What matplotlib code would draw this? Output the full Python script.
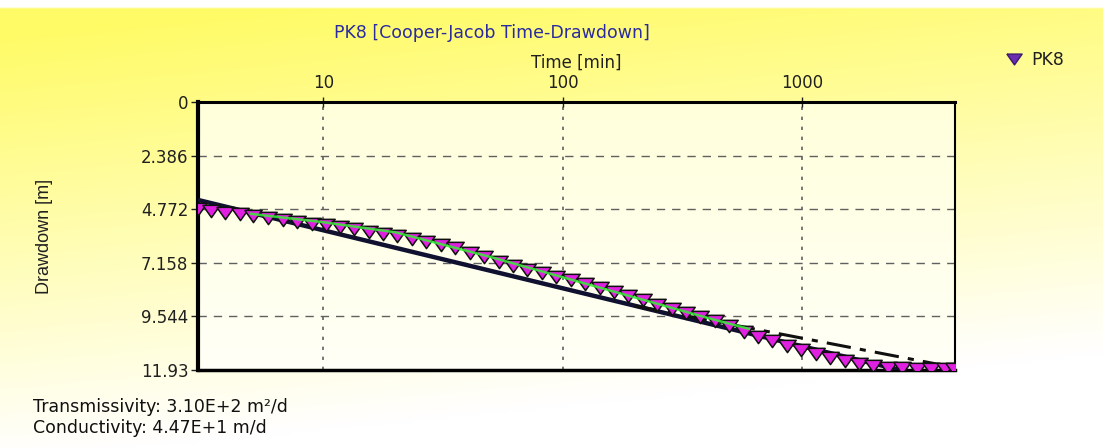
import numpy as np
import matplotlib
matplotlib.use("Agg")
import matplotlib.pyplot as plt
from matplotlib.lines import Line2D

plt.rcParams['font.family'] = ['DejaVu Sans']

# ---------------- data ----------------
time_min = [3.0, 3.4, 3.9, 4.5, 5.1, 5.9, 6.8, 7.8, 9.0, 10.3, 11.8, 13.5, 15.5,
            17.8, 20.4, 23.5, 27, 31, 35.5, 41, 47, 54, 62, 71, 82, 94, 108,
            124, 143, 164, 188, 216, 248, 285, 327, 376, 432, 496, 570, 655,
            752, 864, 992, 1140, 1310, 1505, 1730, 1985, 2280, 2620, 3010,
            3460, 3970, 4300]
drawdown_m = [4.78, 4.85, 4.92, 5.00, 5.08, 5.18, 5.26, 5.34, 5.42, 5.49, 5.58,
              5.67, 5.78, 5.88, 5.98, 6.09, 6.22, 6.37, 6.52, 6.72, 6.92, 7.12,
              7.30, 7.47, 7.63, 7.77, 7.93, 8.09, 8.28, 8.46, 8.64, 8.83, 9.02,
              9.22, 9.40, 9.57, 9.76, 9.97, 10.22, 10.45, 10.65, 10.85, 11.05,
              11.22, 11.38, 11.52, 11.65, 11.75, 11.82, 11.86, 11.88, 11.89,
              11.90, 11.90]

# Cooper-Jacob straight-line fit (solid)
fit_t = [3.0, 2565]
fit_s = [4.36, 11.93]
# late-time fit (dash-dot)
late_t = [200, 4300]
late_s = [9.08, 11.81]
# green trace
green_t = [5, 10, 20, 50, 100, 200, 400, 600]
green_s = [4.98, 5.35, 5.80, 6.90, 7.80, 8.70, 9.60, 10.10]

y_ticks = [0, 2.386, 4.772, 7.158, 9.544, 11.93]
y_ticklabels = ['0', '2.386', '4.772', '7.158', '9.544', '11.93']
x_ticks = [10, 100, 1000]
x_ticklabels = ['10', '100', '1000']

# ---------------- figure ----------------
W, H = 1103, 448
fig = plt.figure(figsize=(W / 100, H / 100), dpi=100)

# background gradient
bg = fig.add_axes([0, 0, 1, 1], zorder=-10)
u = np.linspace(0, 1, 300)[None, :]
v = np.linspace(0, 1, 150)[:, None]
tmix = np.clip(1.05 * v + 0.25 * u - 0.08, 0, 1) ** 1.0
yellow = np.array([1.0, 0.985, 0.40])
white = np.array([1.0, 1.0, 1.0])
img = yellow[None, None, :] * (1 - tmix[..., None]) + white[None, None, :] * tmix[..., None]
img[: int(150 * 8 / H) + 1, :, :] = 1.0
bg.imshow(img, aspect='auto', extent=[0, 1, 0, 1], origin='upper')
bg.set_axis_off()

left, right, top, bottom = 198, 955, 102, 370
ax = fig.add_axes([left / W, 1 - bottom / H, (right - left) / W, (bottom - top) / H])

# plot-area face gradient (cream at top to near white)
face = np.linspace(0, 1, 100)[:, None] * np.ones((1, 10))
cream = np.array([1.0, 1.0, 0.86])
fimg = cream[None, None, :] * (1 - face[..., None]) + np.array([1.0, 1.0, 0.97])[None, None, :] * face[..., None]
ax.imshow(fimg, aspect='auto', extent=[0, 1, 0, 1], origin='upper',
          transform=ax.transAxes, zorder=0)

ax.set_xscale('log')
ax.set_xlim(3.0, 4350)
ax.set_ylim(11.93, 0)

# grid
for yt in y_ticks[1:-1]:
    ax.axhline(yt, color='#606060', lw=1.0, ls=(0, (6, 5)), zorder=1)
for xt in x_ticks:
    ax.axvline(xt, color='#606060', lw=1.2, ls=(0, (2, 4)), zorder=1)

wide_tri = [(-1.2, 0.85), (1.2, 0.85), (0.0, -0.85), (-1.2, 0.85)]

ax.plot(fit_t, fit_s, color='#101030', lw=3.2, zorder=3, solid_capstyle='butt')
ax.plot(late_t, late_s, color='#101010', lw=2.2, ls=(0, (8, 3, 2, 3)), zorder=3)
ax.plot(time_min, drawdown_m, ls='none', marker=wide_tri, ms=12.5, mfc='#E020E0',
        mec='#101010', mew=1.1, zorder=4, clip_on=True)
ax.plot(green_t, green_s, color='#33EE33', lw=1.8, zorder=5, alpha=0.85)

# ticks
ax.xaxis.tick_top()
ax.xaxis.set_label_position('top')
ax.set_xticks(x_ticks)
ax.set_xticklabels(x_ticklabels)
ax.xaxis.set_minor_locator(matplotlib.ticker.NullLocator())
ax.tick_params(axis='x', which='major', direction='inout', length=7, width=1,
               pad=4, labelsize=12, colors='#202020')
ax.set_yticks(y_ticks)
ax.set_yticklabels(y_ticklabels)
ax.tick_params(axis='y', direction='out', length=5, width=1, pad=2,
               labelsize=12, colors='#202020')

ax.set_xlabel('Time [min]', fontsize=12, color='#202020', labelpad=4)
ax.set_ylabel('Drawdown [m]', fontsize=13, color='#202020',
              family=['Liberation Sans Narrow', 'Liberation Sans', 'DejaVu Sans'])
ax.yaxis.set_label_coords((53 - left) / (right - left), 0.5)

for side, lw in (('left', 3.0), ('bottom', 2.5), ('top', 2.2), ('right', 1.5)):
    ax.spines[side].set_linewidth(lw)
    ax.spines[side].set_color('#000000')

fig.text(492 / W, 1 - 33 / H, 'PK8 [Cooper-Jacob Time-Drawdown]', ha='center',
         va='center', fontsize=12.5, color='#2B2BA0')

handle = Line2D([], [], ls='none', marker=wide_tri, ms=11, mfc='#6A2CB0', mec='#3A1A70')
fig.legend([handle], ['PK8'], loc='center left', bbox_to_anchor=(988 / W, 1 - 60 / H),
           frameon=False, fontsize=12.5, handletextpad=0.4, handlelength=1.2,
           labelcolor='#202020')

fig.text(33 / W, 1 - 407 / H, 'Transmissivity: 3.10E+2 m²/d', ha='left',
         va='center', fontsize=12.5, color='#101010')
fig.text(33 / W, 1 - 428 / H, 'Conductivity: 4.47E+1 m/d', ha='left',
         va='center', fontsize=12.5, color='#101010')

fig.savefig('out.png', dpi=100)
